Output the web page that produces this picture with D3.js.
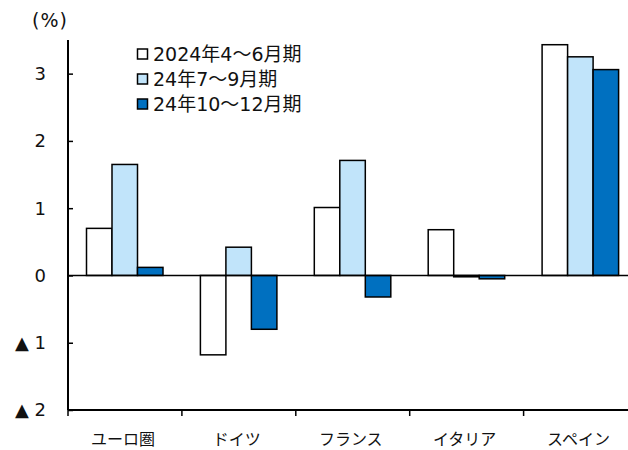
<!DOCTYPE html>
<html><head><meta charset="utf-8">
<script src="https://cdn.jsdelivr.net/npm/d3@7"></script>
<style>
body{margin:0;background:#fff;}
svg{display:block;font-family:"DejaVu Sans","Noto Sans CJK JP",sans-serif;}
</style></head>
<body><svg id="c" width="628" height="450"></svg>
<script>
const categories = ["ユーロ圏","ドイツ","フランス","イタリア","スペイン"];
const seriesNames = ["2024年4～6月期","24年7～9月期","24年10～12月期"];
const s1 = [0.70, -1.18, 1.01, 0.68, 3.43];
const s2 = [1.65, 0.42, 1.71, -0.02, 3.25];
const s3 = [0.12, -0.80, -0.32, -0.05, 3.06];
const colors = ["#ffffff","#c1e4fa","#0070c0"];
const yTicks = [-2,-1,0,1,2,3];
const tickLabel = v => v < 0 ? "▲ " + Math.abs(v) : String(v);

const series = [s1,s2,s3];
const svg = d3.select("#c");
const x0 = 68, yTop = 40, yBot = 410;
const bandW = 113.9;
const x = d3.scaleBand().domain(categories).range([x0, x0 + bandW*categories.length]).paddingInner(0).paddingOuter(0);
const y = d3.scaleLinear().domain([-2, 3.5]).range([yBot, yTop]);
const inner = d3.scaleBand().domain(d3.range(3)).range([18.5, 18.5+76.5]);

// bars
categories.forEach((c,i)=>{
  series.forEach((s,j)=>{
    const v = s[i];
    svg.append("rect")
      .attr("x", x(c)+inner(j))
      .attr("y", y(Math.max(0,v)))
      .attr("width", inner.bandwidth())
      .attr("height", Math.abs(y(v)-y(0)))
      .attr("fill", colors[j])
      .attr("stroke","#000").attr("stroke-width",1.5);
  });
});

// zero line
svg.append("line").attr("x1",x0).attr("x2",628).attr("y1",y(0)).attr("y2",y(0))
  .attr("stroke","#000").attr("stroke-width",1.5);

// y axis
const yAxis = d3.axisRight(y).tickValues(yTicks).tickSize(5).tickFormat("");
const gy = svg.append("g").attr("transform",`translate(${x0},0)`).call(yAxis);
gy.select(".domain").remove();
gy.selectAll(".tick line").attr("stroke","#000").attr("stroke-width",1.5);
svg.append("line").attr("x1",x0).attr("x2",x0).attr("y1",yTop).attr("y2",yBot)
  .attr("stroke","#000").attr("stroke-width",2);
svg.append("g").selectAll("text").data(yTicks).join("text")
  .attr("x",46).attr("y",d=>y(d)).attr("dy","0.36em")
  .attr("text-anchor","end").attr("font-size",18).attr("fill","#111")
  .text(tickLabel);

// x axis
const xAxis = d3.axisBottom(x).tickSize(0).tickFormat("");
const gx = svg.append("g").attr("transform",`translate(0,${yBot})`).call(xAxis);
gx.select(".domain").remove();
svg.append("line").attr("x1",x0).attr("x2",628).attr("y1",yBot).attr("y2",yBot)
  .attr("stroke","#000").attr("stroke-width",2);
svg.append("g").selectAll("line").data(categories).join("line")
  .attr("x1",d=>x(d)).attr("x2",d=>x(d)).attr("y1",yBot).attr("y2",yBot+6)
  .attr("stroke","#000").attr("stroke-width",1.5);
svg.append("g").selectAll("text").data(categories).join("text")
  .attr("x",d=>x(d)+x.bandwidth()/2-2).attr("y",439).attr("dy","0.35em")
  .attr("text-anchor","middle").attr("font-size",16).attr("fill","#111")
  .text(d=>d);

// unit
svg.append("text").attr("x",32).attr("y",20).attr("dy","0.35em")
  .attr("font-size",19).attr("letter-spacing",1).attr("fill","#111").text("(%)");

// legend
const lg = svg.append("g");
seriesNames.forEach((n,j)=>{
  const cy = 54 + j*25;
  lg.append("rect").attr("x",137.5).attr("y",cy-5).attr("width",10).attr("height",10)
    .attr("fill",colors[j]).attr("stroke","#000").attr("stroke-width",1.5);
  lg.append("text").attr("x",153).attr("y",cy).attr("dy","0.36em")
    .attr("font-size",19).attr("fill","#111").text(n);
});
</script></body></html>
